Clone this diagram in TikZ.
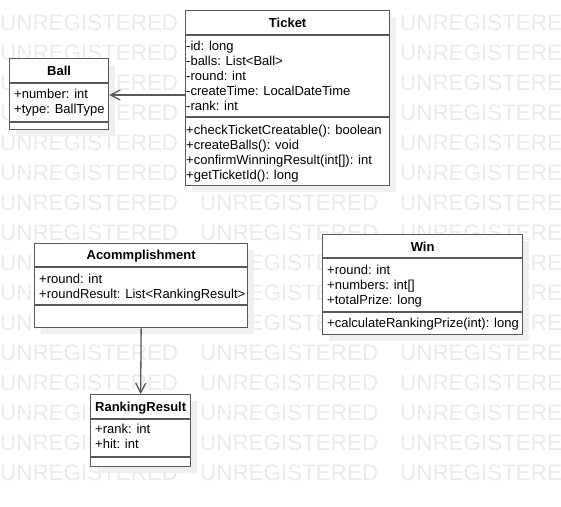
\documentclass[tikz,border=0pt]{standalone}
\usepackage{fontspec}
\setmainfont{Liberation Sans}
\usetikzlibrary{arrows.meta, shadows}
\newcommand{\umlfont}{\fontsize{13}{15}\selectfont}
\newcommand{\wmfont}{\fontsize{22.4}{26}\selectfont}
\tikzset{classbox/.style = {draw=black!65, line width=1.3pt, fill=white, inner sep=0pt, anchor=north west,
    drop shadow={shadow xshift=6pt, shadow yshift=-6pt, fill=black!6, opacity=1}}}
\tikzset{classline/.style = {draw=black!65, line width=1.3pt}}
\tikzset{classtitle/.style = {anchor=base, inner sep=0pt, font=\umlfont\bfseries}}
\tikzset{member/.style = {anchor=base west, inner sep=0pt, font=\umlfont}}
\tikzset{assoc/.style = {draw=black!65, line width=1.3pt, -{Straight Barb[length=9.5pt, width=10pt]}}}
\tikzset{watermark/.style = {anchor=base west, inner sep=0pt, text=black!8, font=\wmfont}}

\begin{document}
\begin{tikzpicture}[x=1pt, y=-1pt]
\useasboundingbox (0,0) rectangle (561,506);
\foreach \row in {0,...,15}
  \foreach \col in {0,1,2}
    \node[watermark] (wm\row-\col) at (200*\col, 30+30*\row) {UNREGISTERED};

\node[classbox, minimum width=99pt, minimum height=71pt] (ball) at (9,58) {};
\draw[classline] (ball.west |- 0,83) -- (ball.east |- 0,83);
\draw[classline] (ball.west |- 0,122) -- (ball.east |- 0,122);
\node[classtitle] (balltitle) at (ball.north |- 0,75.3) {Ball};
\foreach \txt [count=\i] in {+number: int, +type: BallType}
  \node[member] (ballattr\i) at (14, 83.8+15*\i) {\txt};

\node[classbox, minimum width=204pt, minimum height=175pt] (ticket) at (185,10) {};
\draw[classline] (ticket.west |- 0,35) -- (ticket.east |- 0,35);
\draw[classline] (ticket.west |- 0,117) -- (ticket.east |- 0,117);
\node[classtitle] (tickettitle) at (ticket.north |- 0,27.3) {Ticket};
\foreach \txt [count=\i] in {-id: long, -balls: List<Ball>, -round: int, -createTime: LocalDateTime, -rank: int}
  \node[member] (ticketattr\i) at (186, 35.3+15*\i) {\txt};
\foreach \txt [count=\i] in {+checkTicketCreatable(): boolean, +createBalls(): void, +confirmWinningResult(int[]): int, +getTicketId(): long}
  \node[member] (ticketop\i) at (186, 119+15*\i) {\txt};

\node[classbox, minimum width=213pt, minimum height=84pt] (acc) at (34,243) {};
\draw[classline] (acc.west |- 0,267) -- (acc.east |- 0,267);
\draw[classline] (acc.west |- 0,305) -- (acc.east |- 0,305);
\node[classtitle] (acctitle) at (acc.north |- 0,259) {Acommplishment};
\foreach \txt [count=\i] in {+round: int, +roundResult: List<RankingResult>}
  \node[member] (accattr\i) at (39, 268+15*\i) {\txt};

\node[classbox, minimum width=200pt, minimum height=100pt] (win) at (322,234) {};
\draw[classline] (win.west |- 0,258) -- (win.east |- 0,258);
\draw[classline] (win.west |- 0,312) -- (win.east |- 0,312);
\node[classtitle] (wintitle) at (win.north |- 0,251.2) {Win};
\foreach \txt [count=\i] in {+round: int, +numbers: int[], +totalPrize: long}
  \node[member] (winattr\i) at (327, 259.5+15*\i) {\txt};
\node[member] (winop1) at (327,327.8) {+calculateRankingPrize(int): long};

\node[classbox, minimum width=100pt, minimum height=72pt] (ranking) at (90,394) {};
\draw[classline] (ranking.west |- 0,419) -- (ranking.east |- 0,419);
\draw[classline] (ranking.west |- 0,457) -- (ranking.east |- 0,457);
\node[classtitle] (rankingtitle) at (ranking.north |- 0,411.2) {RankingResult};
\foreach \txt [count=\i] in {+rank: int, +hit: int}
  \node[member] (rankingattr\i) at (95, 418.8+15*\i) {\txt};

\draw[assoc] (ticket.west |- 0,95) -- (ball.east |- 0,95);
\draw[assoc] (acc.south) -- (ranking.north);
\end{tikzpicture}
\end{document}
